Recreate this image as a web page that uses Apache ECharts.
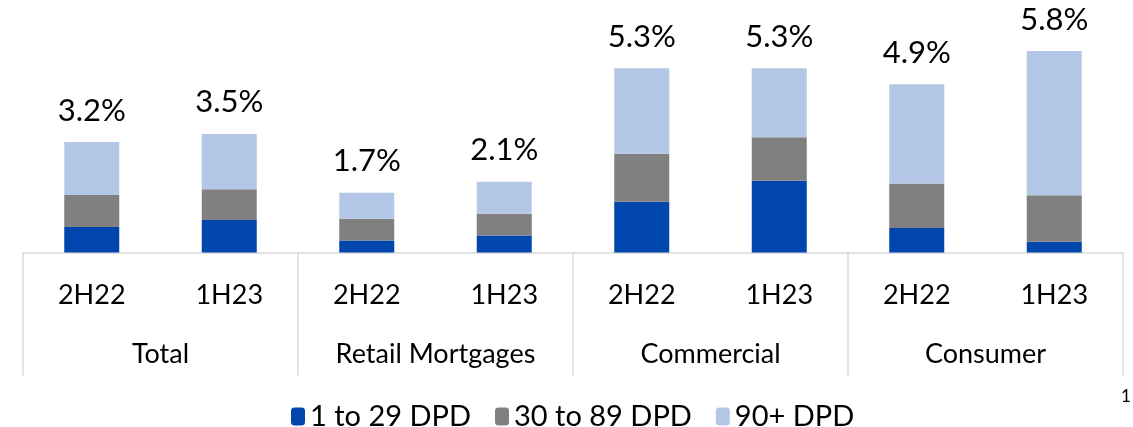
<!DOCTYPE html>
<html>
<head>
<meta charset="utf-8">
<script src="https://cdn.jsdelivr.net/npm/echarts@6/dist/echarts.min.js"></script>
<style>
  html, body { margin: 0; padding: 0; background: #fff; }
  #chart { width: 1133px; height: 427px; }
</style>
</head>
<body>
<div id="chart"></div>
<script>
// periods and segments
var periods = ['2H22', '1H23', '2H22', '1H23', '2H22', '1H23', '2H22', '1H23']
var segments = ['Total', 'Retail Mortgages', 'Commercial', 'Consumer']
var dpd1to29 = [0.74, 0.945, 0.35, 0.49, 1.47, 2.08, 0.71, 0.31]
var dpd30to89 = [0.93, 0.89, 0.63, 0.63, 1.39, 1.26, 1.29, 1.35]
var dpd90plus = [1.53, 1.6, 0.75, 0.93, 2.48, 2.0, 2.88, 4.18]
var totals = ['3.2%', '3.5%', '1.7%', '2.1%', '5.3%', '5.3%', '4.9%', '5.8%']

var font = 'Lato, "Liberation Sans", sans-serif'
var chart = echarts.init(document.getElementById('chart'))

chart.setOption({
  animation: false,
  textStyle: { fontFamily: font },
  grid: {
    left: 23,
    right: 10,
    top: 11,
    bottom: 174.5
  },
  legend: {
    left: 286,
    top: 397,
    itemWidth: 14,
    itemHeight: 18,
    itemGap: 24,
    textStyle: { fontSize: 29, color: '#000', fontFamily: font },
    data: ['1 to 29 DPD', '30 to 89 DPD', '90+ DPD']
  },
  xAxis: [
    {
      type: 'category',
      data: periods,
      axisLine: { lineStyle: { color: '#d9d9d9', width: 1.5 } },
      axisTick: { show: false },
      axisLabel: { fontSize: 27, color: '#000', margin: 29, interval: 0 }
    },
    {
      type: 'category',
      data: segments,
      position: 'bottom',
      axisLine: { show: false },
      axisTick: { show: true, length: 123, lineStyle: { color: '#d9d9d9', width: 1.5 } },
      axisLabel: { fontSize: 27, color: '#000', margin: 88, interval: 0 }
    }
  ],
  yAxis: {
    type: 'value',
    min: 0,
    max: 7,
    show: false
  },
  series: [
    {
      name: '1 to 29 DPD',
      type: 'bar',
      stack: 'dpd',
      barWidth: 55,
      itemStyle: { color: '#0046AD' },
      data: dpd1to29
    },
    {
      name: '30 to 89 DPD',
      type: 'bar',
      stack: 'dpd',
      itemStyle: { color: '#808080' },
      data: dpd30to89
    },
    {
      name: '90+ DPD',
      type: 'bar',
      stack: 'dpd',
      itemStyle: { color: '#B4C7E7' },
      label: {
        show: true,
        position: 'top',
        distance: 16,
        fontSize: 31,
        color: '#000',
        fontFamily: font,
        formatter: function(p) {
          return totals[p.dataIndex]
        }
      },
      data: dpd90plus
    }
  ],
  graphic: [{
    type: 'text',
    left: 1121,
    top: 388,
    style: { text: '1', fontSize: 17, fill: '#000', fontFamily: font }
  }]
})
</script>
</body>
</html>
